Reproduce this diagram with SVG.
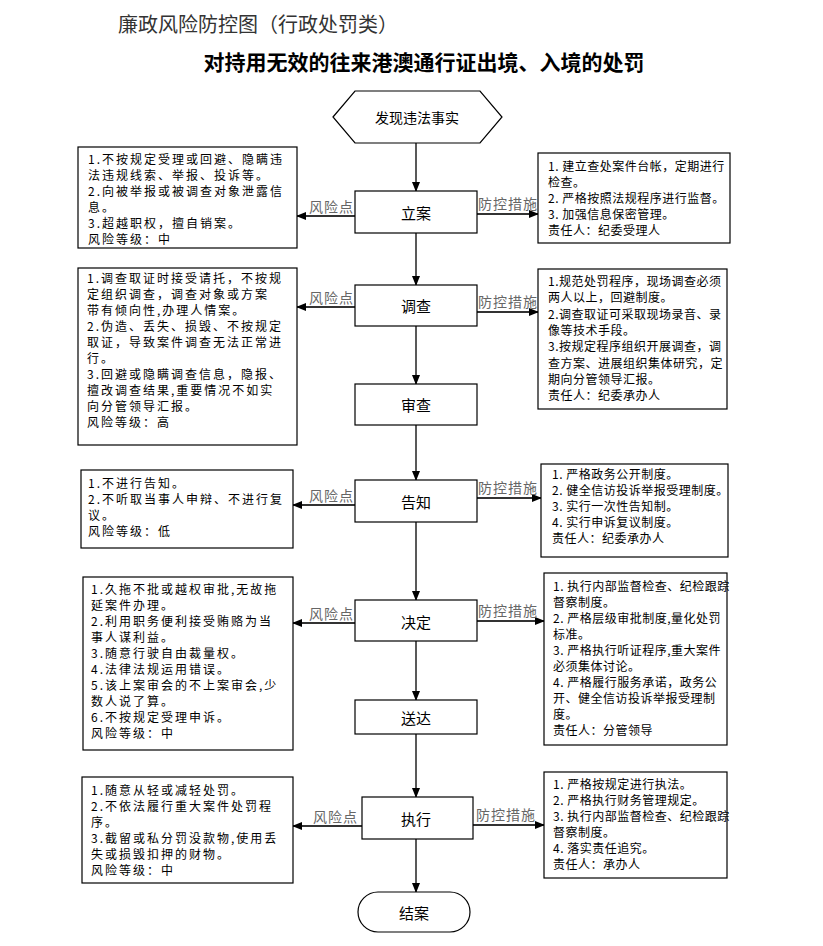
<svg xmlns="http://www.w3.org/2000/svg" width="823" height="946" viewBox="0 0 823 946">
<defs>
<style>
text{font-family:"Noto Sans CJK SC","Noto Sans",sans-serif;fill:#000}
.t1{font-size:20px;fill:#333}
.t2{font-size:21px;font-weight:bold}
.box{fill:#fff;stroke:#000;stroke-width:1.2}
.lt{font-size:12px;letter-spacing:2px}
.rt{font-size:12px;letter-spacing:0.5px}
.ct{font-size:15px;text-anchor:middle;dominant-baseline:central}
.lab{font-size:14px;fill:#666;letter-spacing:1px}
.ln{stroke:#222;stroke-width:1.5;fill:none}
.hl{stroke:#333;stroke-width:1.8;fill:none}
</style>
<marker id="ah" markerWidth="10" markerHeight="8" refX="9" refY="4" orient="auto" markerUnits="userSpaceOnUse">
<path d="M0,0 L10,4 L0,8 Z" fill="#000"/>
</marker>
</defs>
<rect width="823" height="946" fill="#fff"/>
<text class="t1" x="118" y="32">廉政风险防控图（行政处罚类）</text>
<text class="t2" x="424" y="70" text-anchor="middle">对持用无效的往来港澳通行证出境、入境的处罚</text>

<g id="connectors">
<line class="ln" x1="416" y1="143" x2="416" y2="191" marker-end="url(#ah)"/>
<line class="ln" x1="416" y1="233" x2="416" y2="285" marker-end="url(#ah)"/>
<line class="ln" x1="416" y1="326" x2="416" y2="384" marker-end="url(#ah)"/>
<line class="ln" x1="416" y1="425" x2="416" y2="480" marker-end="url(#ah)"/>
<line class="ln" x1="416" y1="522" x2="416" y2="600" marker-end="url(#ah)"/>
<line class="ln" x1="416" y1="641" x2="416" y2="700" marker-end="url(#ah)"/>
<line class="ln" x1="416" y1="734" x2="416" y2="797" marker-end="url(#ah)"/>
<line class="ln" x1="416" y1="839" x2="416" y2="892" marker-end="url(#ah)"/>
<line class="hl" x1="355" y1="216" x2="297" y2="216" marker-end="url(#ah)"/>
<line class="hl" x1="477" y1="214" x2="538" y2="214" marker-end="url(#ah)"/>
<line class="hl" x1="355" y1="307" x2="297" y2="307" marker-end="url(#ah)"/>
<line class="hl" x1="477" y1="312" x2="538" y2="312" marker-end="url(#ah)"/>
<line class="hl" x1="355" y1="505" x2="293" y2="505" marker-end="url(#ah)"/>
<line class="hl" x1="477" y1="498" x2="541" y2="498" marker-end="url(#ah)"/>
<line class="hl" x1="355" y1="623" x2="293" y2="623" marker-end="url(#ah)"/>
<line class="hl" x1="477" y1="621" x2="544" y2="621" marker-end="url(#ah)"/>
<line class="hl" x1="362" y1="826" x2="293" y2="826" marker-end="url(#ah)"/>
<line class="hl" x1="473" y1="825" x2="544" y2="825" marker-end="url(#ah)"/>
<text class="lab" x="354" y="212" text-anchor="end">风险点</text>
<text class="lab" x="478" y="209">防控措施</text>
<text class="lab" x="354" y="303" text-anchor="end">风险点</text>
<text class="lab" x="478" y="307">防控措施</text>
<text class="lab" x="354" y="501" text-anchor="end">风险点</text>
<text class="lab" x="478" y="493">防控措施</text>
<text class="lab" x="354" y="619" text-anchor="end">风险点</text>
<text class="lab" x="478" y="616">防控措施</text>
<text class="lab" x="358" y="822" text-anchor="end">风险点</text>
<text class="lab" x="476" y="820">防控措施</text>
</g>

<g id="start">
<polygon class="box" points="333,117 355,91 480,91 502,117 480,143 355,143"/>
<text class="ct" x="417" y="117" style="font-size:14px">发现违法事实</text>
</g>
<g id="lian"><rect class="box" x="355" y="191" width="122" height="42"/><text class="ct" x="416" y="212">立案</text></g>
<g id="diaocha"><rect class="box" x="355" y="285" width="122" height="41"/><text class="ct" x="416" y="305">调查</text></g>
<g id="shencha"><rect class="box" x="355" y="384" width="122" height="41"/><text class="ct" x="416" y="404">审查</text></g>
<g id="gaozhi"><rect class="box" x="355" y="480" width="122" height="42"/><text class="ct" x="416" y="501">告知</text></g>
<g id="jueding"><rect class="box" x="355" y="600" width="122" height="41"/><text class="ct" x="416" y="621">决定</text></g>
<g id="songda"><rect class="box" x="355" y="700" width="122" height="34"/><text class="ct" x="416" y="717">送达</text></g>
<g id="zhixing"><rect class="box" x="362" y="797" width="111" height="42"/><text class="ct" x="416" y="818">执行</text></g>
<g id="jiean"><rect class="box" x="358" y="892" width="112" height="40" rx="20" ry="20"/><text class="ct" x="414" y="912">结案</text></g>

<g id="risk1">
<rect class="box" x="78" y="147" width="219" height="101"/>
<text class="lt"><tspan x="88" y="163.5">1.不按规定受理或回避、隐瞒违</tspan><tspan x="88" y="179.5">法违规线索、举报、投诉等。</tspan><tspan x="88" y="195.5">2.向被举报或被调查对象泄露信</tspan><tspan x="88" y="211.5">息。</tspan><tspan x="88" y="227.5">3.超越职权，擅自销案。</tspan><tspan x="88" y="243.5">风险等级：中</tspan></text>
</g>
<g id="ctrl1">
<rect class="box" x="538" y="153" width="192" height="90"/>
<text class="rt"><tspan x="548" y="171">1. 建立查处案件台帐，定期进行</tspan><tspan x="548" y="187">检查。</tspan><tspan x="548" y="203">2. 严格按照法规程序进行监督。</tspan><tspan x="548" y="219">3. 加强信息保密管理。</tspan><tspan x="548" y="235">责任人：纪委受理人</tspan></text>
</g>

<g id="risk2">
<rect class="box" x="78" y="268" width="219" height="177"/>
<text class="lt"><tspan x="87" y="283">1.调查取证时接受请托，不按规</tspan><tspan x="87" y="299">定组织调查，调查对象或方案</tspan><tspan x="87" y="315">带有倾向性,办理人情案。</tspan><tspan x="87" y="331">2.伪造、丢失、损毁、不按规定</tspan><tspan x="87" y="347">取证，导致案件调查无法正常进</tspan><tspan x="87" y="363">行。</tspan><tspan x="87" y="379">3.回避或隐瞒调查信息，隐报、</tspan><tspan x="87" y="395">擅改调查结果,重要情况不如实</tspan><tspan x="87" y="411">向分管领导汇报。</tspan><tspan x="87" y="427">风险等级：高</tspan></text>
</g>
<g id="ctrl2">
<rect class="box" x="538" y="269" width="189" height="140"/>
<text class="rt"><tspan x="548" y="286">1.规范处罚程序，现场调查必须</tspan><tspan x="548" y="302.3">两人以上，回避制度。</tspan><tspan x="548" y="318.6">2.调查取证可采取现场录音、录</tspan><tspan x="548" y="334.9">像等技术手段。</tspan><tspan x="548" y="351.2">3.按规定程序组织开展调查，调</tspan><tspan x="548" y="367.5">查方案、进展组织集体研究，定</tspan><tspan x="548" y="383.8">期向分管领导汇报。</tspan><tspan x="548" y="400.1">责任人：纪委承办人</tspan></text>
</g>

<g id="risk3">
<rect class="box" x="81" y="470" width="212" height="78"/>
<text class="lt"><tspan x="88" y="488">1.不进行告知。</tspan><tspan x="88" y="504">2.不听取当事人申辩、不进行复</tspan><tspan x="88" y="520">议。</tspan><tspan x="88" y="536">风险等级：低</tspan></text>
</g>
<g id="ctrl3">
<rect class="box" x="541" y="464" width="187" height="93"/>
<text class="rt"><tspan x="552" y="479">1. 严格政务公开制度。</tspan><tspan x="552" y="495">2. 健全信访投诉举报受理制度。</tspan><tspan x="552" y="511">3. 实行一次性告知制。</tspan><tspan x="552" y="527">4. 实行申诉复议制度。</tspan><tspan x="552" y="543">责任人：纪委承办人</tspan></text>
</g>

<g id="risk4">
<rect class="box" x="83" y="577" width="210" height="173"/>
<text class="lt"><tspan x="91" y="594">1.久拖不批或越权审批,无故拖</tspan><tspan x="91" y="610">延案件办理。</tspan><tspan x="91" y="626">2.利用职务便利接受贿赂为当</tspan><tspan x="91" y="642">事人谋利益。</tspan><tspan x="91" y="658">3.随意行驶自由裁量权。</tspan><tspan x="91" y="674">4.法律法规运用错误。</tspan><tspan x="91" y="690">5.该上案审会的不上案审会,少</tspan><tspan x="91" y="706">数人说了算。</tspan><tspan x="91" y="722">6.不按规定受理申诉。</tspan><tspan x="91" y="738">风险等级：中</tspan></text>
</g>
<g id="ctrl4">
<rect class="box" x="544" y="573" width="183" height="172"/>
<text class="rt"><tspan x="553" y="591">1. 执行内部监督检查、纪检跟踪</tspan><tspan x="553" y="607">督察制度。</tspan><tspan x="553" y="623">2. 严格层级审批制度,量化处罚</tspan><tspan x="553" y="639">标准。</tspan><tspan x="553" y="655">3. 严格执行听证程序,重大案件</tspan><tspan x="553" y="671">必须集体讨论。</tspan><tspan x="553" y="687">4. 严格履行服务承诺，政务公</tspan><tspan x="553" y="703">开、健全信访投诉举报受理制</tspan><tspan x="553" y="719">度。</tspan><tspan x="553" y="735">责任人：分管领导</tspan></text>
</g>

<g id="risk5">
<rect class="box" x="82" y="777" width="211" height="106"/>
<text class="lt"><tspan x="91" y="795">1.随意从轻或减轻处罚。</tspan><tspan x="91" y="811">2.不依法履行重大案件处罚程</tspan><tspan x="91" y="827">序。</tspan><tspan x="91" y="843">3.截留或私分罚没款物,使用丢</tspan><tspan x="91" y="859">失或损毁扣押的财物。</tspan><tspan x="91" y="875">风险等级：中</tspan></text>
</g>
<g id="ctrl5">
<rect class="box" x="544" y="772" width="183" height="106"/>
<text class="rt"><tspan x="553" y="789">1. 严格按规定进行执法。</tspan><tspan x="553" y="805">2. 严格执行财务管理规定。</tspan><tspan x="553" y="821">3. 执行内部监督检查、纪检跟踪</tspan><tspan x="553" y="837">督察制度。</tspan><tspan x="553" y="853">4. 落实责任追究。</tspan><tspan x="553" y="869">责任人：承办人</tspan></text>
</g>
</svg>
